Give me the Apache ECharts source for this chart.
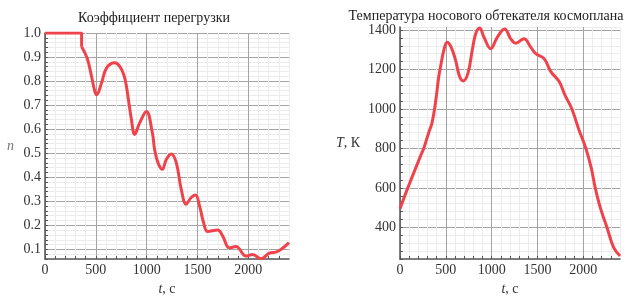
<!DOCTYPE html>
<html>
<head>
<meta charset="utf-8">
<script src="https://cdn.jsdelivr.net/npm/echarts@6/dist/echarts.min.js"></script>
<style>
html, body { margin: 0; padding: 0; background: #fff; }
#chart { width: 628px; height: 301px; }
</style>
</head>
<body>
<div id="chart"></div>
<script>
// коэффициент перегрузки n(t)
var nTime = [0, 360, 360, 415, 458, 490, 507, 556, 605, 686, 735, 775, 801, 850, 882, 931, 997, 1056, 1078, 1111, 1154, 1193, 1242, 1291, 1340, 1389, 1438, 1480, 1520, 1559, 1601, 1699, 1748, 1814, 1879, 1977, 2042, 2124, 2206, 2288, 2400];
var nValue = [1.0, 1.0, 0.943, 0.895, 0.819, 0.757, 0.743, 0.792, 0.854, 0.876, 0.861, 0.826, 0.778, 0.64, 0.578, 0.626, 0.674, 0.585, 0.516, 0.461, 0.433, 0.474, 0.497, 0.461, 0.35, 0.288, 0.316, 0.326, 0.281, 0.213, 0.174, 0.181, 0.155, 0.106, 0.112, 0.072, 0.079, 0.061, 0.084, 0.091, 0.128];

// температура обтекателя T(t)
var tTime = [0, 81, 234, 259, 314, 350, 387, 423, 442, 478, 514, 558, 606, 650, 689, 741, 788, 825, 869, 916, 989, 1061, 1142, 1208, 1262, 1353, 1426, 1481, 1572, 1645, 1736, 1800, 1875, 1948, 2028, 2087, 2130, 2185, 2258, 2330, 2400];
var tValue = [494, 595, 773, 800, 881, 931, 1031, 1164, 1213, 1297, 1338, 1313, 1247, 1164, 1142, 1180, 1297, 1380, 1410, 1363, 1305, 1363, 1405, 1355, 1333, 1355, 1313, 1280, 1255, 1189, 1139, 1070, 1000, 900, 800, 700, 600, 500, 400, 299, 255];

var nData = nTime.map(function (t, i) { return [t, nValue[i]]; });
var tData = tTime.map(function (t, i) { return [t, tValue[i]]; });

var serif = 'Liberation Serif';
var MAJ = '#a3a3a3', MIN = '#ececec';
var lineRed = '#f0424a';

function xAxisCfg(idx) {
	return {
		type: 'value', gridIndex: idx, min: 0, max: 2400, interval: 100,
		name: '{i|t}, с', nameLocation: 'middle', nameGap: 23,
		nameTextStyle: { fontFamily: serif, fontSize: 14, color: '#333', rich: { i: { fontStyle: 'italic', fontFamily: serif, fontSize: 14, color: '#333' } } },
		axisLine: { lineStyle: { color: '#555', width: 1.5 } },
		axisTick: { inside: true, length: 3, lineStyle: { color: '#555' } },
		axisLabel: {
			fontFamily: serif, fontSize: 14, color: '#333', margin: 4, showMaxLabel: false,
			formatter: function (v) { return v % 500 === 0 ? String(v) : ''; }
		},
		splitLine: { show: true, lineStyle: { color: [MAJ, MIN, MIN, MIN, MIN], width: 1 } }
	};
}

var chart = echarts.init(document.getElementById('chart'));
var option = {
	animation: false,
	title: [{
		text: 'Коэффициент перегрузки', left: 149, top: 6, textAlign: 'center',
		textStyle: { fontFamily: serif, fontSize: 14, fontWeight: 'normal', color: '#222' }
	}, {
		text: 'Температура носового обтекателя космоплана', left: 481, top: 4, textAlign: 'center',
		textStyle: { fontFamily: serif, fontSize: 14, fontWeight: 'normal', color: '#222' }
	}],
	grid: [
		{ left: 45, right: 339, top: 33, bottom: 40 },
		{ left: 400, right: 8, top: 27, bottom: 40 }
	],
	xAxis: [xAxisCfg(0), xAxisCfg(1)],
	yAxis: [{
		type: 'value', gridIndex: 0, min: 0.06, max: 1.0, interval: 0.02,
		name: 'n', nameLocation: 'middle', nameRotate: 0, nameGap: 31,
		nameTextStyle: { fontFamily: serif, fontSize: 14, fontStyle: 'italic', color: '#777' },
		axisLine: { show: true, lineStyle: { color: '#555', width: 1.5 } },
		axisTick: { show: true, inside: true, length: 3, lineStyle: { color: '#555' } },
		axisLabel: {
			fontFamily: serif, fontSize: 14, color: '#333', margin: 4,
			formatter: function (v) {
				return Math.abs(v * 10 - Math.round(v * 10)) < 1e-6 ? v.toFixed(1) : '';
			}
		},
		splitLine: { show: true, lineStyle: { color: [MIN, MIN, MAJ, MIN, MIN], width: 1 } }
	}, {
		type: 'value', gridIndex: 1, min: 240, max: 1415, interval: 40,
		name: '{i|T}, К', nameLocation: 'middle', nameRotate: 0, nameGap: 40,
		nameTextStyle: { fontFamily: serif, fontSize: 14, color: '#333', rich: { i: { fontStyle: 'italic', fontFamily: serif, fontSize: 14, color: '#333' } } },
		axisLine: { show: true, lineStyle: { color: '#555', width: 1.5 } },
		axisTick: { show: true, inside: true, length: 3, lineStyle: { color: '#555' } },
		axisLabel: {
			fontFamily: serif, fontSize: 14, color: '#333', margin: 4, showMaxLabel: false,
			formatter: function (v) { return v % 200 === 0 ? String(v) : ''; }
		},
		splitLine: { show: true, lineStyle: { color: [MIN, MIN, MIN, MIN, MAJ], width: 1 } }
	}],
	series: [{
		type: 'line', xAxisIndex: 0, yAxisIndex: 0, showSymbol: false,
		data: nData.slice(0, 3),
		lineStyle: { color: lineRed, width: 3 }
	}, {
		type: 'line', xAxisIndex: 0, yAxisIndex: 0, showSymbol: false, smooth: 0.4,
		data: nData.slice(2),
		lineStyle: { color: lineRed, width: 3 }
	}, {
		type: 'line', xAxisIndex: 1, yAxisIndex: 1, showSymbol: false, smooth: 0.4,
		data: tData,
		lineStyle: { color: lineRed, width: 3 }
	}]
};
chart.setOption(option);
</script>
</body>
</html>
